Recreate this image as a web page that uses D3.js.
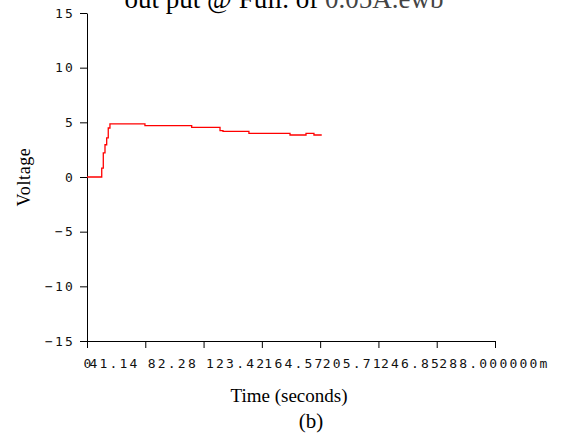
<!DOCTYPE html>
<html><head><meta charset="utf-8">
<script src="https://cdn.jsdelivr.net/npm/d3@7"></script>
<style>
html,body{margin:0;padding:0;background:#fff;}
svg{display:block;}
</style></head>
<body>
<svg id="chart" width="561" height="435"></svg>
<script>
const times = [0, 10.4, 11.5, 12.7, 13.9, 15.0, 16.2, 40.9, 73.9, 93.9, 96.0, 114.3, 143.3, 154.6, 160.2, 165.7];
const volts = [0, 0.82, 2.2, 2.95, 3.57, 4.48, 4.85, 4.69, 4.54, 4.24, 4.17, 3.99, 3.84, 3.99, 3.84, 3.84];
const xTickValues = [0, 41.14, 82.28, 123.42, 164.57, 205.71, 246.85, 288];
const xTickLabels = ["0", "41.14", "82.28", "123.42", "164.57", "205.71", "246.85", "288.000000m"];
const yTickValues = [-15, -10, -5, 0, 5, 10, 15];
const yTickLabels = ["\u221215", "\u221210", "\u22125", "0", "5", "10", "15"];
const titleMain = "out put @ Full. of ";
const titleTail = "0.05A.ewb";
const xTitle = "Time (seconds)";
const yTitle = "Voltage";
const caption = "(b)";

const svg = d3.select("#chart");
const x = d3.scaleLinear().domain([0, 288]).range([87, 495]);
const y = d3.scaleLinear().domain([-15, 15]).range([341, 13]);

const tickFont = "'DejaVu Sans Mono', monospace";

// Y axis
const yAxis = d3.axisLeft(y).tickValues(yTickValues).tickSize(7).tickSizeOuter(0)
  .tickFormat((d, i) => yTickLabels[i]);
const gy = svg.append("g").attr("transform", "translate(87,0)").call(yAxis);
gy.select(".domain").attr("stroke", "#000");
gy.selectAll(".tick line").attr("stroke", "#000");
gy.selectAll(".tick text").attr("x", -12).attr("font-family", tickFont).attr("font-size", 13)
  .attr("letter-spacing", "2.2px").attr("fill", "#111");

// X axis
const xAxis = d3.axisBottom(x).tickValues(xTickValues).tickSize(7).tickSizeOuter(0)
  .tickFormat((d, i) => xTickLabels[i]);
const gx = svg.append("g").attr("transform", "translate(0,341)").call(xAxis);
gx.select(".domain").attr("stroke", "#000");
gx.selectAll(".tick line").attr("stroke", "#000");
gx.selectAll(".tick text")
  .attr("font-family", tickFont).attr("font-size", 13).attr("letter-spacing", "2.2px")
  .attr("fill", "#111").attr("dy", null).attr("y", 27)
  .attr("text-anchor", "start")
  .attr("x", (d, i) => i === 0 ? -4 : x(xTickValues[i - 1]) - x(d) + 2);

// Line
const data = times.map((t, i) => ({t, v: volts[i]}));
const line = d3.line().x(d => x(d.t)).y(d => y(d.v)).curve(d3.curveStepAfter);
svg.append("path").datum(data).attr("d", line)
  .attr("fill", "none").attr("stroke", "#ff0000").attr("stroke-width", 1.3);

// Title
const title = svg.append("text").attr("x", 284).attr("y", 8).attr("text-anchor", "middle")
  .attr("font-family", "'Liberation Serif', serif").attr("font-size", 27).attr("fill", "#000");
title.append("tspan").text(titleMain);
title.append("tspan").attr("fill", "#444").text(titleTail);

// Axis titles
svg.append("text").attr("transform", "translate(30,177) rotate(-90)").attr("text-anchor", "middle")
  .attr("font-family", "'Liberation Serif', serif").attr("font-size", 18).attr("letter-spacing", "0.6px")
  .attr("fill", "#000").text(yTitle);
svg.append("text").attr("x", 289).attr("y", 402).attr("text-anchor", "middle")
  .attr("font-family", "'Liberation Serif', serif").attr("font-size", 19).attr("fill", "#000")
  .text(xTitle);
svg.append("text").attr("x", 311).attr("y", 428).attr("text-anchor", "middle")
  .attr("font-family", "'Liberation Serif', serif").attr("font-size", 21).attr("fill", "#000")
  .text(caption);
</script>
</body></html>
